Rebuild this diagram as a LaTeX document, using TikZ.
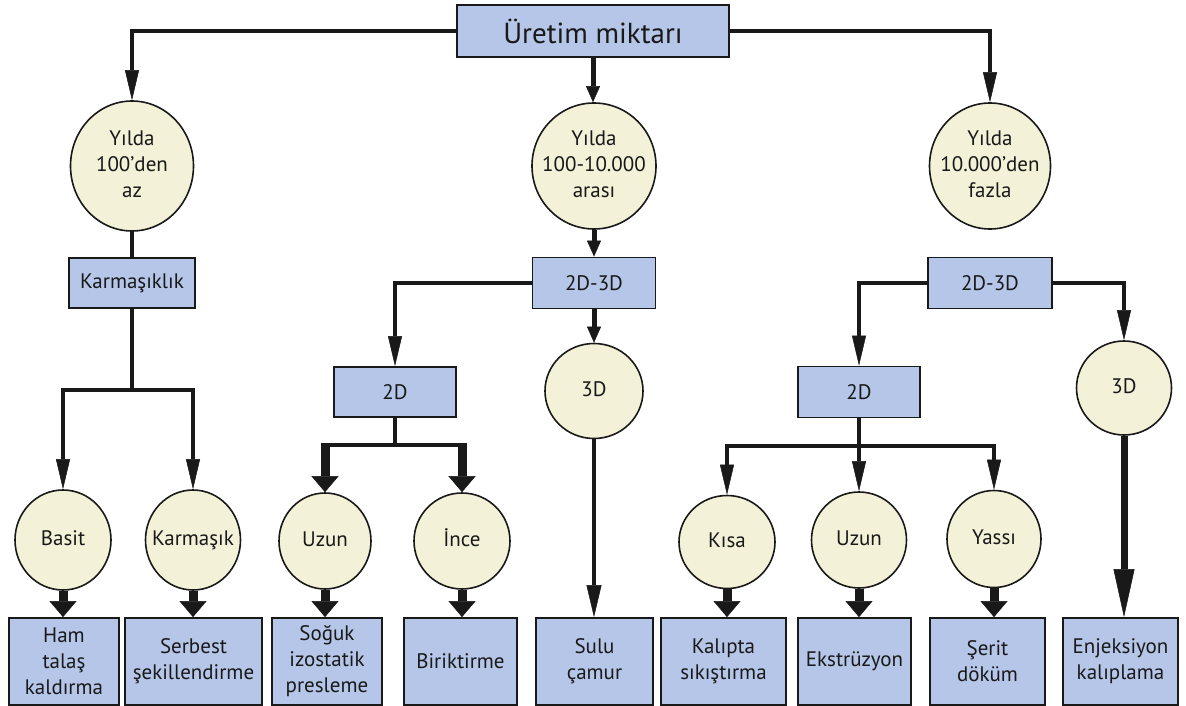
\documentclass[tikz,border=0pt]{standalone}
\usepackage{fontspec}
\setmainfont{PT Sans}
\usetikzlibrary{arrows.meta,shapes.geometric}
\definecolor{boxblue}{RGB}{181,198,232}
\definecolor{circyel}{RGB}{243,241,216}
\definecolor{ink}{RGB}{25,25,25}
\newcommand{\ctext}[1]{\makebox[0pt]{\begin{tabular}{@{}c@{}}#1\end{tabular}}}
\begin{document}
\begin{tikzpicture}[x=1pt,y=-1pt,
  every node/.style={font=\fontsize{21}{26}\selectfont, text=ink},
  bx/.style={rectangle, draw=ink, line width=1.8pt, fill=boxblue, inner sep=0pt, align=center},
  ov/.style={ellipse, draw=ink, line width=1.6pt, fill=circyel, inner sep=0pt},
  ln/.style={draw=ink, line width=3.5pt},
  arrA/.style={ln, -{Triangle[length=30pt,width=14pt,line width=0.5pt]}},
  arrB/.style={draw=ink, line width=5pt, -{Triangle[length=16pt,width=14pt,line width=0.5pt]}},
  arrM/.style={draw=ink, line width=4.5pt, -{Triangle[length=32pt,width=15pt,line width=0.5pt]}},
  arrBig/.style={draw=ink, line width=7pt, -{Triangle[length=48pt,width=21pt,line width=0.5pt]}},
  arrBlk/.style={draw=ink, line width=9pt, -{Triangle[length=16pt,width=27pt,line width=0.5pt]}}
]
\fill[white] (0,0) rectangle (1186,706);
\useasboundingbox (0,0) rectangle (1186,706);

% top level
\node[bx, minimum width=272pt, minimum height=52pt, font=\fontsize{29}{34}\selectfont] (top) at (593,31) {Üretim miktarı};
\node[ov, minimum width=123pt, minimum height=130pt] (c1) at (132,166) {\ctext{Yılda\\100’den\\az}};
\node[ov, minimum width=124pt, minimum height=126pt] (c2) at (594,166) {\ctext{Yılda\\100-10.000\\arası}};
\node[ov, minimum width=121pt, minimum height=126pt] (c3) at (990,166) {\ctext{Yılda\\10.000’den\\fazla}};

% second level
\node[bx, minimum width=126pt, minimum height=50pt] (k) at (132,283) {Karmaşıklık};
\node[bx, minimum width=123pt, minimum height=51pt] (m23) at (594,283) {2D-3D};
\node[bx, minimum width=124pt, minimum height=51pt] (r23) at (990,283) {2D-3D};

% third level
\node[bx, minimum width=122pt, minimum height=50pt] (m2) at (395,392) {2D};
\node[bx, minimum width=122pt, minimum height=51pt] (r2) at (859,392) {2D};
\node[ov, minimum width=98pt, minimum height=95pt] (m3) at (594,391) {\ctext{3D}};
\node[ov, minimum width=95pt, minimum height=94pt] (r3) at (1124,388) {\ctext{3D}};

% circles row
\node[ov, minimum width=96pt, minimum height=100pt] (basit) at (63,540) {\ctext{Basit}};
\node[ov, minimum width=95pt, minimum height=100pt] (karmasik) at (193,540) {\ctext{Karmaşık}};
\node[ov, minimum width=92pt, minimum height=96pt] (uzun) at (325,541) {\ctext{Uzun}};
\node[ov, minimum width=96pt, minimum height=96pt] (ince) at (462,541) {\ctext{İnce}};
\node[ov, minimum width=96pt, minimum height=93pt] (kisa) at (727,542) {\ctext{Kısa}};
\node[ov, minimum width=95pt, minimum height=96pt] (uzunr) at (859,540) {\ctext{Uzun}};
\node[ov, minimum width=94pt, minimum height=97pt] (yassi) at (994,539) {\ctext{Yassı}};

% bottom boxes
\node[bx, minimum width=110pt, minimum height=87pt] (ham) at (64,661.5) {Ham\\talaş\\kaldırma};
\node[bx, minimum width=137pt, minimum height=87pt] (serbest) at (193.5,661.5) {Serbest\\şekillendirme};
\node[bx, minimum width=110pt, minimum height=87pt] (soguk) at (327,661.5) {Soğuk\\izostatik\\presleme};
\node[bx, minimum width=113pt, minimum height=87pt] (birikt) at (460.5,661.5) {Biriktirme};
\node[bx, minimum width=117pt, minimum height=87pt] (sulu) at (594.5,661.5) {Sulu\\çamur};
\node[bx, minimum width=125pt, minimum height=87pt] (kalipta) at (723.5,661.5) {Kalıpta\\sıkıştırma};
\node[bx, minimum width=113pt, minimum height=87pt] (ekstr) at (854.5,661.5) {Ekstrüzyon};
\node[bx, minimum width=115pt, minimum height=87pt] (serit) at (987.5,661.5) {Şerit\\döküm};
\node[bx, minimum width=115pt, minimum height=87pt] (enj) at (1120.5,661.5) {Enjeksiyon\\kalıplama};

% connectors from top
\draw[arrA] (top.west) -| (c1.north);
\draw[arrB] (top.south) -- (top.south |- c2.north);
\draw[arrA] (top.east) -| (c3.north);

% left branch
\coordinate (jk) at (132,390);
\draw[ln] (c1.south) -- (k.north);
\draw[ln] (k.south) -- (jk);
\draw[arrA] (jk) -| (basit.north);
\draw[arrA] (jk) -| (karmasik.north);

% middle branch
\draw[arrB] (c2.south) -- (m23.north);
\draw[arrA] (m23.west) -| (m2.north);
\draw[arrB] (m23.south) -- (m3.north);
\coordinate (j2) at (395,445);
\coordinate (ju) at (j2 -| uzun);
\coordinate (ji) at (j2 -| ince);
\draw[ln] (m2.south) -- (j2);
\draw[ln, shorten <=-4.5pt, shorten >=-4.5pt] (ju) -- (ji);
\draw[arrBlk] (ju) -- (uzun.north);
\draw[arrBlk] (ji) -- (ince.north);
\draw[arrM] (m3.south) -- (m3.south |- sulu.north);

% right branch
\draw[arrA] (r23.west) -| (r2.north);
\draw[arrA] (r23.east) -| (r3.north);
\coordinate (jr) at (859,446);
\coordinate (jka) at (jr -| kisa);
\coordinate (jya) at (jr -| yassi);
\draw[ln] (r2.south) -- (jr);
\draw[ln, shorten <=-1.75pt, shorten >=-1.75pt] (jka) -- (jya);
\draw[arrA] (jka) -- (kisa.north);
\draw[arrA] (jr) -- (uzunr.north);
\draw[arrA] (jya) -- (yassi.north);
\draw[arrBig] (r3.south) -- (r3.south |- enj.north);

% block arrows to bottom boxes
\draw[arrBlk] (basit.south) -- (basit.south |- ham.north);
\draw[arrBlk] (karmasik.south) -- (karmasik.south |- serbest.north);
\draw[arrBlk] (uzun.south) -- (uzun.south |- soguk.north);
\draw[arrBlk] (ince.south) -- (ince.south |- birikt.north);
\draw[arrBlk] (kisa.south) -- (kisa.south |- kalipta.north);
\draw[arrBlk] (uzunr.south) -- (uzunr.south |- ekstr.north);
\draw[arrBlk] (yassi.south) -- (yassi.south |- serit.north);
\end{tikzpicture}
\end{document}
